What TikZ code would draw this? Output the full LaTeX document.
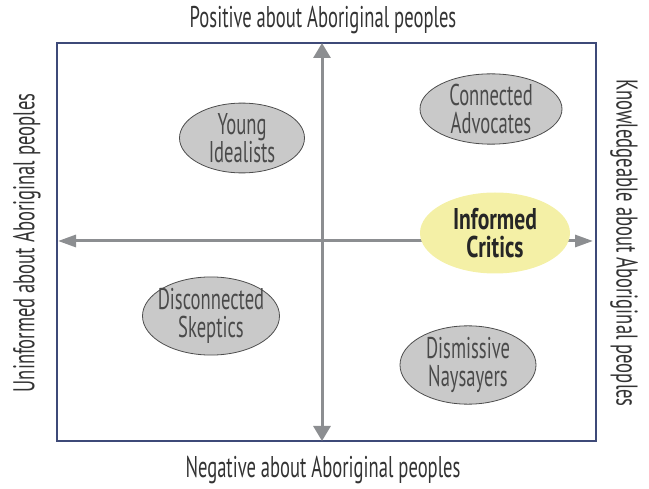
\documentclass[tikz,border=0pt]{standalone}
\usepackage{fontspec}
\setmainfont[FakeStretch=0.62, BoldFeatures={FakeStretch=0.72}]{PT Sans}
\usepackage{tikz}
\usetikzlibrary{arrows.meta, shapes.geometric}

\definecolor{frameblue}{HTML}{3E4A78}
\definecolor{axisgray}{HTML}{8C8E91}
\definecolor{blobgray}{HTML}{C9C9C9}
\definecolor{blobedge}{HTML}{4D4D4D}
\definecolor{blobtext}{HTML}{4A4A4A}
\definecolor{crityellow}{HTML}{F4F0A6}

\tikzset{
	axis/.style={line width=3pt, axisgray},
	haxis/.style={axis, {Triangle[length=18pt, width=12pt]}-{Triangle[length=18pt, width=12pt]}},
	vaxis/.style={axis, {Triangle[length=15pt, width=17pt]}-{Triangle[length=15pt, width=17pt]}},
	blob/.style={ellipse, draw=blobedge, line width=0.8pt, fill=blobgray, text=blobtext,
		inner xsep=-12pt, inner ysep=0pt, align=center, font=\fontsize{30}{28}\selectfont},
	axlabel/.style={text=black!80, font=\fontsize{30}{30}\selectfont, inner sep=0pt}
}

\begin{document}
\begin{tikzpicture}[x=1pt, y=-1pt]
	
	% -------------------------------------------------------------------------
	% 1. 画布与外框
	% -------------------------------------------------------------------------
	\useasboundingbox (0,0) rectangle (649,489);
	\draw[frameblue, line width=1.6pt] (57,43) rectangle (596,441);
	
	% -------------------------------------------------------------------------
	% 2. 坐标轴
	% -------------------------------------------------------------------------
	\coordinate (West)  at (58,241);
	\coordinate (East)  at (593,241);
	\coordinate (North) at (322,43);
	\coordinate (South) at (322,441);
	\draw[haxis] (West) -- (East);
	\draw[vaxis] (South) -- (North);
	
	% -------------------------------------------------------------------------
	% 3. 四个群体
	% -------------------------------------------------------------------------
	\node[blob, minimum width=125pt, minimum height=68pt] (Young) at (242,138) {Young\\Idealists};
	\node[blob, minimum width=142pt, minimum height=67pt] (Connected) at (491,109) {Connected\\Advocates};
	\node[blob, minimum width=137pt, minimum height=67pt] (Disconnected) at (211,316) {Disconnected\\Skeptics};
	\node[blob, minimum width=136pt, minimum height=70pt] (Dismissive) at (468,365) {Dismissive\\Naysayers};
	\node[blob, draw=none, fill=crityellow, text=black!85, font=\fontsize{30}{28}\selectfont\bfseries,
		minimum width=150pt, minimum height=81pt] (Informed) at (495,233) {Informed\\Critics};
	
	% -------------------------------------------------------------------------
	% 4. 轴标签
	% -------------------------------------------------------------------------
	\node[axlabel] (PosLabel) at (323,20) {Positive about Aboriginal peoples};
	\node[axlabel] (NegLabel) at (323,470) {Negative about Aboriginal peoples};
	\node[axlabel, rotate=90] (UninfLabel) at (27,243) {Uninformed about Aboriginal peoples};
	\node[axlabel, rotate=-90] (KnowLabel) at (624,243) {Knowledgeable about Aboriginal peoples};
	
\end{tikzpicture}
\end{document}
